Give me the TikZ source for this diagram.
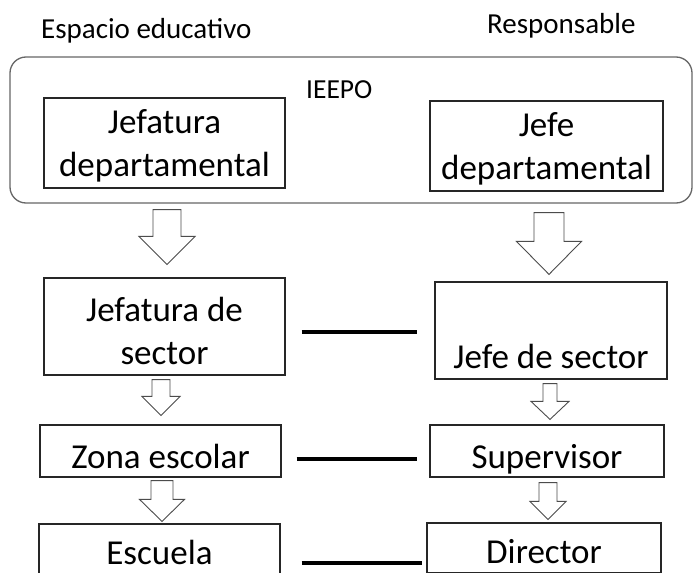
\documentclass[tikz,border=0pt]{standalone}
\usepackage{fontspec}
\setmainfont{Carlito}
\usetikzlibrary{positioning,calc}
\newcommand{\alto}[1]{\rule{0pt}{#1pt}}
\newcommand{\bajo}[1]{\rule[-#1pt]{0pt}{#1pt}}
\tikzset{caja/.style={draw=black!85, line width=1.2pt, inner sep=0pt, align=center,
    font=\fontsize{35}{43}\selectfont},
  caja una/.style={caja, text height=34pt, text depth=0pt},
  marco/.style={draw=black!60, line width=1.3pt, rounded corners=16pt, inner sep=0pt},
  titulo/.style={inner sep=0pt, anchor=base west, font=\fontsize{29}{34}\selectfont},
  enlace/.style={line width=3.6pt},
  flecha/.style n args={3}{draw=black!70, line width=0.9pt, fill=white,
    to path={let \p1=(\tikztostart), \p2=(\tikztotarget) in
      (\x1-#1pt,\y1) -- (\x1+#1pt,\y1) -- (\x1+#1pt,\y2+#3pt) -- (\x1+#2pt,\y2+#3pt)
      -- (\x1,\y2) -- (\x1-#2pt,\y2+#3pt) -- (\x1-#1pt,\y2+#3pt) -- cycle}}}

\begin{document}
\begin{tikzpicture}[x=1pt,y=-1pt]
    \clip (0,0) rectangle (694,573);
    \fill[white] (0,0) rectangle (694,573);

    % encabezados
    \node[titulo] (espacio) at (41,38) {Espacio educativo};
    \node[titulo] (resp) at (487,33) {Responsable};

    % IEEPO
    \node[marco, minimum width=682, minimum height=146] (marco) at (351,130) {};
    \node[titulo, font=\fontsize{27.5}{30}\selectfont] (ieepo) at (306,98) {IEEPO};

    % cajas
    \node[caja, minimum width=241, minimum height=90] (jdep) at (164.5,143) {\alto{33}Jefatura\\departamental\bajo{10}};
    \node[caja, minimum width=233, minimum height=90] (jfdep) at (546.5,146) {\alto{33}Jefe\\departamental\bajo{10}};
    \node[caja, minimum width=241, minimum height=97] (jsec) at (164.5,326.5) {\alto{42}Jefatura de\\sector\bajo{10}};
    \node[caja, minimum width=232, minimum height=97] (jfsec) at (551,330.5) {\alto{42}\\Jefe de sector\bajo{10}};
    \node[caja una, minimum width=241, minimum height=52] (zona) at (160.5,451) {Zona escolar};
    \node[caja una, minimum width=234, minimum height=52] (superv) at (547,451) {Supervisor};
    \node[caja una, text height=31pt, minimum width=241, minimum height=50] (escuela) at (159.5,549) {Escuela};
    \node[caja una, text height=31pt, minimum width=234, minimum height=50] (director) at (544,548) {Director};

    % flechas
    \draw[flecha={14}{28}{28}] ($(marco.south -| jdep)+(2.5,6)$) to ($(jsec.north)+(2.5,-13)$);
    \draw[flecha={15}{32.5}{33}] ($(marco.south -| jfdep)+(2.5,9)$) to ($(jfsec.north)+(-2,-7)$);
    \draw[flecha={9}{19}{19}] ($(jsec.south)+(-3.5,4)$) to ($(zona.north)+(0,-9)$);
    \draw[flecha={7}{19}{18}] ($(jfsec.south)+(-1,4)$) to ($(superv.north)+(0,-5)$);
    \draw[flecha={11}{22.5}{22}] ($(zona.south)+(1.5,3)$) to ($(escuela.north)+(0,-2)$);
    \draw[flecha={9}{18}{18}] ($(superv.south)+(1,5)$) to ($(director.north)+(0,-3)$);

    % enlaces
    \draw[enlace, shorten <=16pt, shorten >=17pt] ($(jsec.east)+(0,5.5)$) -- ($(jsec.east -| jfsec.west)+(0,5.5)$);
    \draw[enlace, shorten <=15pt, shorten >=12pt] ($(zona.east)+(0,8)$) -- ($(zona.east -| superv.west)+(0,8)$);
    \draw[enlace, shorten <=21pt, shorten >=4pt] ($(escuela.east)+(0,14)$) -- ($(escuela.east -| director.west)+(0,14)$);

\end{tikzpicture}
\end{document}
